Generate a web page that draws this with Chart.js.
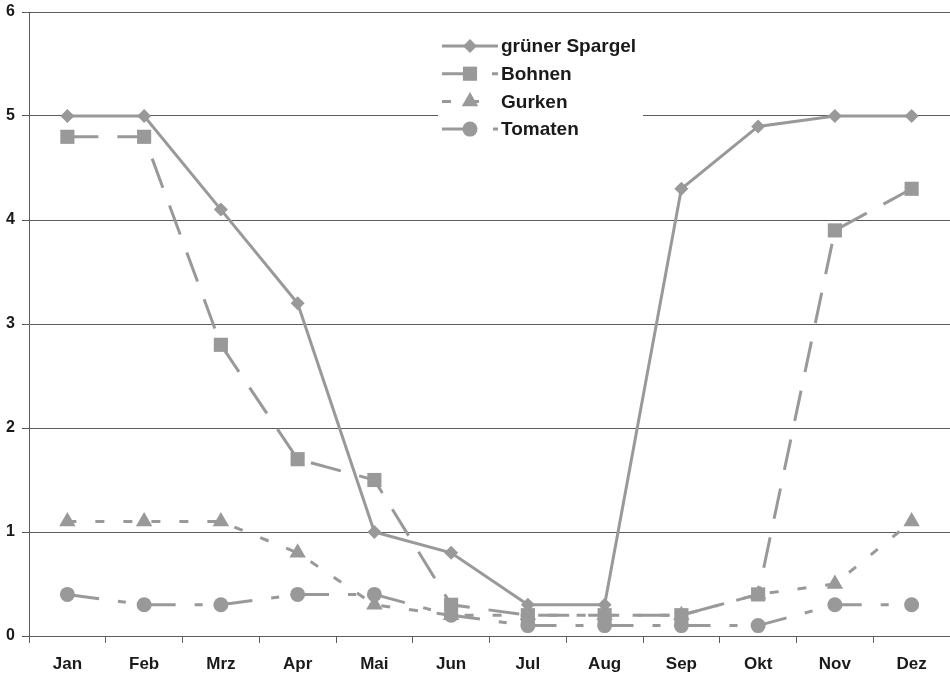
<!DOCTYPE html>
<html>
<head>
<meta charset="utf-8">
<script src="https://cdn.jsdelivr.net/npm/chart.js@4.4.0/dist/chart.umd.min.js"></script>
<style>
html, body { margin: 0; padding: 0; background: #fff; }
#wrap { width: 950px; height: 674px; position: relative; }
</style>
</head>
<body>
<div id="wrap"><canvas id="seasonChart"></canvas></div>
<script>
// Saisonkalender: values
const months = ['Jan', 'Feb', 'Mrz', 'Apr', 'Mai', 'Jun', 'Jul', 'Aug', 'Sep', 'Okt', 'Nov', 'Dez'];
const spargel = [5, 5, 4.1, 3.2, 1.0, 0.8, 0.3, 0.3, 4.3, 4.9, 5, 5];
const bohnen = [4.8, 4.8, 2.8, 1.7, 1.5, 0.3, 0.2, 0.2, 0.2, 0.4, 3.9, 4.3];
const gurken = [1.1, 1.1, 1.1, 0.8, 0.3, 0.2, 0.2, 0.2, 0.2, 0.4, 0.5, 1.1];
const tomaten = [0.4, 0.3, 0.3, 0.4, 0.4, 0.2, 0.1, 0.1, 0.1, 0.1, 0.3, 0.3];
const yMin = 0;
const yMax = 6;

const grey = '#999999';
const axisGrey = '#5c5c5c';
const textColor = '#1a1a1a';
const fontFamily = '"Liberation Sans", Arial, sans-serif';

// draws one legend marker, same shapes as the points
function drawMarker(ctx, style, r, x, y) {
    ctx.beginPath();
    if (style === 'rectRot') {
        ctx.moveTo(x, y - r); ctx.lineTo(x + r, y); ctx.lineTo(x, y + r); ctx.lineTo(x - r, y);
    } else if (style === 'rect') {
        const s = Math.SQRT1_2 * r;
        ctx.rect(x - s, y - s, 2 * s, 2 * s);
    } else if (style === 'triangle') {
        ctx.moveTo(x, y - r);
        ctx.lineTo(x + r * Math.sin(Math.PI * 2 / 3), y + r / 2);
        ctx.lineTo(x - r * Math.sin(Math.PI * 2 / 3), y + r / 2);
    } else {
        ctx.arc(x, y, r, 0, Math.PI * 2);
    }
    ctx.closePath();
    ctx.fill();
}

// legend with white box over the grid, like the original
const boxLegend = {
    id: 'boxLegend',
    afterDraw(chart) {
        const ctx = chart.ctx;
        ctx.save();
        ctx.fillStyle = '#ffffff';
        ctx.fillRect(438, 30, 205, 115);
        chart.data.datasets.forEach((ds, i) => {
            const y = 46 + i * 27.7;
            ctx.strokeStyle = ds.borderColor;
            ctx.lineWidth = ds.borderWidth;
            ctx.setLineDash(ds.borderDash || []);
            ctx.beginPath();
            ctx.moveTo(442, y);
            ctx.lineTo(498, y);
            ctx.stroke();
            ctx.setLineDash([]);
            ctx.fillStyle = ds.borderColor;
            drawMarker(ctx, ds.pointStyle, ds.pointRadius, 470, y);
            ctx.fillStyle = textColor;
            ctx.font = 'bold 19px ' + fontFamily;
            ctx.textBaseline = 'middle';
            ctx.textAlign = 'left';
            ctx.fillText(ds.label, 501, y + 1);
        });
        ctx.restore();
    }
};

function series(label, data, style, radius, dash, order) {
    return {
        label: label,
        data: data,
        borderColor: grey,
        backgroundColor: grey,
        borderWidth: 3,
        borderDash: dash,
        tension: 0,
        fill: false,
        pointStyle: style,
        pointRadius: radius,
        pointHoverRadius: radius,
        pointBackgroundColor: grey,
        pointBorderWidth: 0,
        order: order
    };
}

const ctx = document.getElementById('seasonChart').getContext('2d');
const seasonChart = new Chart(ctx, {
    type: 'line',
    data: {
        labels: months,
        datasets: [
            series('grüner Spargel', spargel, 'rectRot', 7, [], 3),
            series('Bohnen', bohnen, 'rect', 10, [31, 19], 2),
            series('Gurken', gurken, 'triangle', 9.5, [9, 19], 4),
            series('Tomaten', tomaten, 'circle', 7.5, [32, 19, 8, 18], 1)
        ]
    },
    options: {
        responsive: true,
        maintainAspectRatio: false,
        animation: false,
        layout: { autoPadding: false, padding: { top: 12, right: 0, bottom: 0, left: 0 } },
        plugins: {
            legend: { display: false },
            tooltip: { enabled: false }
        },
        scales: {
            x: {
                type: 'category',
                offset: true,
                afterFit: (scale) => {
                    scale.height = 38;
                    scale.paddingLeft = 0;
                    scale.paddingRight = 0;
                },
                grid: {
                    offset: true,
                    drawOnChartArea: false,
                    drawTicks: true,
                    tickLength: 7,
                    color: axisGrey,
                    lineWidth: 1
                },
                border: { display: true, color: axisGrey, width: 1 },
                ticks: {
                    autoSkip: false,
                    maxRotation: 0,
                    minRotation: 0,
                    padding: 11,
                    color: textColor,
                    font: { family: fontFamily, size: 17, weight: 'bold' }
                }
            },
            y: {
                min: yMin,
                max: yMax,
                afterFit: (scale) => {
                    scale.width = 29;
                    scale.paddingTop = 0;
                    scale.paddingBottom = 0;
                },
                grid: {
                    drawTicks: true,
                    tickLength: 7,
                    color: axisGrey,
                    lineWidth: 1
                },
                border: { display: true, color: axisGrey, width: 1 },
                ticks: {
                    stepSize: 1,
                    padding: 7,
                    color: textColor,
                    font: { family: fontFamily, size: 16, weight: 'bold' }
                }
            }
        }
    },
    plugins: [boxLegend]
});
</script>
</body>
</html>
